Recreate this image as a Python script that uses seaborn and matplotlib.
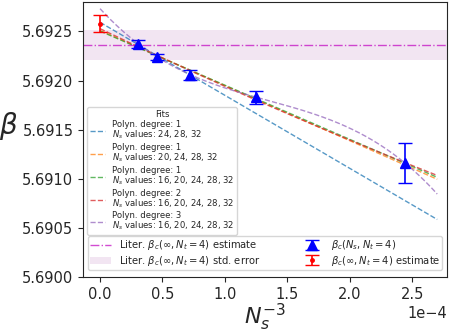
import numpy as np
import pandas as pd
import matplotlib
matplotlib.use("Agg")
import matplotlib.pyplot as plt
import seaborn as sns

# Data
Ns = np.array([16, 20, 24, 28, 32])
beta_c = np.array([5.69116, 5.69183, 5.69206, 5.69224, 5.692375])
beta_err = np.array([0.00020, 0.000065, 0.00005, 0.000035, 0.00004])
beta_inf = 5.69258
beta_inf_err = 0.000088
lit_val = 5.692365
lit_err = 0.000152

fit_degrees = [1, 1, 1, 2, 3]
fit_ns_sets = [[24, 28, 32], [20, 24, 28, 32], [16, 20, 24, 28, 32],
               [16, 20, 24, 28, 32], [16, 20, 24, 28, 32]]
fit_colors = ["tab:blue", "tab:orange", "tab:green", "tab:red", "tab:purple"]
x_fit_max = 2.7e-4

sns.set_style("ticks")
plt.rcParams['font.family'] = ['DejaVu Sans']

fig = plt.figure(figsize=(4.49, 3.32), dpi=100)
ax = fig.add_axes([0.185, 0.166, 0.811, 0.828])

x = Ns.astype(float) ** -3
xs = np.linspace(0, x_fit_max, 200)

fit_handles = []
for deg, nset, col in zip(fit_degrees, fit_ns_sets, fit_colors):
    mask = np.isin(Ns, nset)
    coef = np.polyfit(x[mask], beta_c[mask], deg)
    ys = np.polyval(coef, xs)
    df = pd.DataFrame({"x": xs, "y": ys})
    sns.lineplot(data=df, x="x", y="y", ax=ax, color=col, lw=1.0,
                 linestyle="--", alpha=0.75)
    h, = ax.plot([], [], color=col, lw=1.0, linestyle="--", alpha=0.75,
                 label=f"Polyn. degree: {deg}\n$N_s$ values: " + ", ".join(str(n) for n in nset))
    fit_handles.append(h)

lit_line = ax.axhline(lit_val, color="m", lw=1.0, linestyle="-.", alpha=0.7,
                      label=r"Liter. $\beta_c(\infty, N_t = 4)$ estimate")
lit_band = ax.axhspan(lit_val - lit_err, lit_val + lit_err, color="purple",
                      alpha=0.1, lw=0, label=r"Liter. $\beta_c(\infty, N_t = 4)$ std. error")

pts = ax.errorbar(x, beta_c, yerr=beta_err, fmt="^", color="blue", ms=6.5,
                  capsize=5, elinewidth=1.2, label=r"$\beta_c(N_s, N_t = 4)$")
est = ax.errorbar([0.0], [beta_inf], yerr=[beta_inf_err], fmt=".", color="red",
                  ms=5, capsize=5, elinewidth=1.2,
                  label=r"$\beta_c(\infty, N_t = 4)$ estimate")

ax.set_xlim(-0.136e-4, 2.78e-4)
ax.set_ylim(5.6900, 5.6928)
ax.set_yticks([5.6900, 5.6905, 5.6910, 5.6915, 5.6920, 5.6925])
ax.set_yticklabels(["5.6900", "5.6905", "5.6910", "5.6915", "5.6920", "5.6925"])
ax.ticklabel_format(axis="x", style="sci", scilimits=(0, 0))
ax.tick_params(labelsize=10.5)
ax.xaxis.get_offset_text().set_fontsize(10.5)
ax.set_xlabel(r"$N_s^{-3}$", fontsize=16, labelpad=0)
ax.set_ylabel(r"$\beta$", fontsize=20, rotation=0, va="center")
ax.yaxis.set_label_coords(-0.205, 0.55)

leg1 = ax.legend(handles=fit_handles, title="Fits", fontsize=6.1,
                 title_fontsize=6.1, loc="upper left",
                 bbox_to_anchor=(0.0, 0.633), frameon=True,
                 handlelength=1.8, labelspacing=0.2, borderpad=0.3)
for t in leg1.get_texts():
    t.set_linespacing(0.95)
ax.add_artist(leg1)
ax.legend(handles=[lit_line, lit_band, pts, est], fontsize=7.2, ncol=2,
          loc="lower left", bbox_to_anchor=(0.0, 0.007, 1.0, 0.2),
          mode="expand", handlelength=2.1,
          labelspacing=0.15, borderpad=0.2)

fig.savefig("out.png", dpi=100)
